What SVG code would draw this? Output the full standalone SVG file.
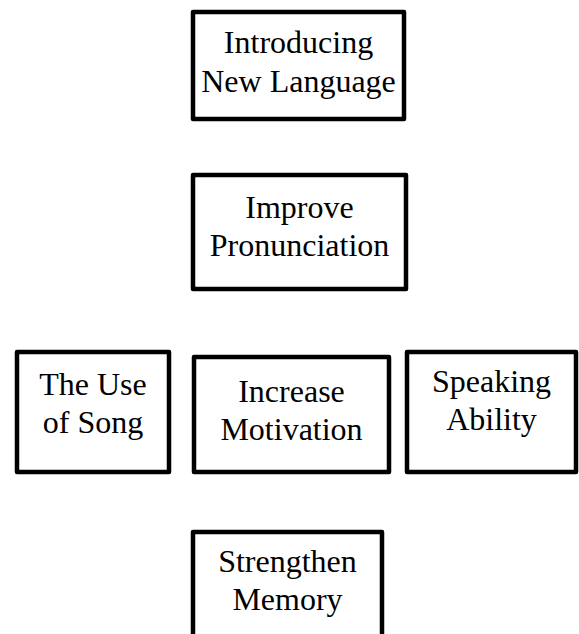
<svg xmlns="http://www.w3.org/2000/svg" width="579" height="634" viewBox="0 0 579 634">
<style>
.box{fill:#fff;stroke:#000;stroke-width:4.5;stroke-linejoin:round}
.t{font-family:"Liberation Serif","Times New Roman",serif;font-size:32px;fill:#000;text-anchor:middle}
</style>
<rect width="579" height="634" fill="#fff"/>
<g id="connectors"></g>
<g id="introducing">
<rect class="box" x="193" y="12" width="211" height="107"/>
<text class="t" x="298.5" y="53">Introducing</text>
<text class="t" x="298.5" y="92">New Language</text>
</g>
<g id="improve">
<rect class="box" x="193" y="175" width="213" height="114"/>
<text class="t" x="299.5" y="218">Improve</text>
<text class="t" x="299.5" y="256">Pronunciation</text>
</g>
<g id="song">
<rect class="box" x="17" y="352" width="152" height="120"/>
<text class="t" x="93" y="395">The Use</text>
<text class="t" x="93" y="433">of Song</text>
</g>
<g id="motivation">
<rect class="box" x="194" y="357" width="195" height="115"/>
<text class="t" x="291.5" y="402">Increase</text>
<text class="t" x="291.5" y="440">Motivation</text>
</g>
<g id="speaking">
<rect class="box" x="407" y="352" width="169" height="120"/>
<text class="t" x="491.5" y="392">Speaking</text>
<text class="t" x="491.5" y="430">Ability</text>
</g>
<g id="memory">
<rect class="box" x="193" y="532" width="189" height="120"/>
<text class="t" x="287.5" y="572">Strengthen</text>
<text class="t" x="287.5" y="610">Memory</text>
</g>
</svg>
